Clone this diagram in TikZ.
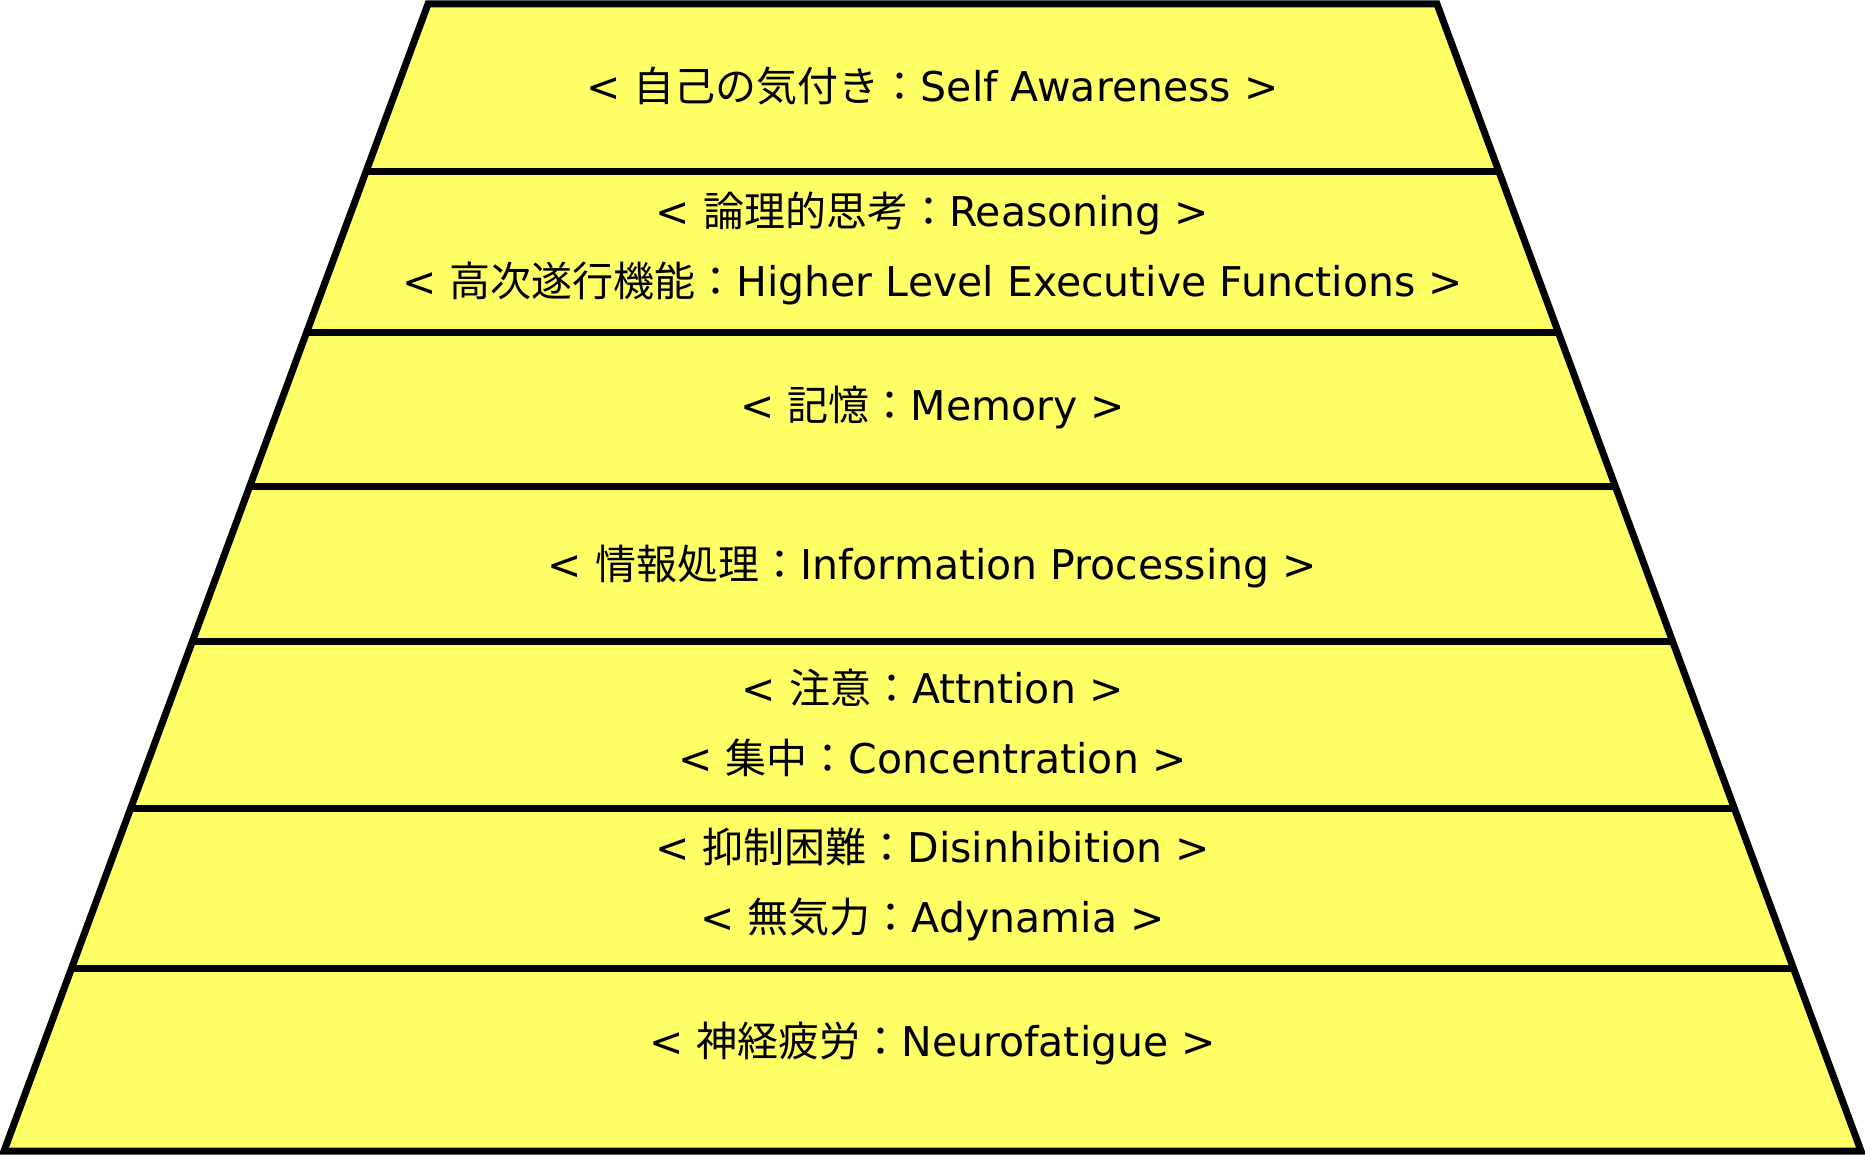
\documentclass[tikz,border=0pt]{standalone}
\usepackage{fontspec}
\setmainfont{DejaVu Sans}
\newfontfamily\jpfont{Noto Sans CJK JP}
\newcommand{\J}[1]{{\jpfont #1}}
\usetikzlibrary{calc}
\definecolor{layerfill}{HTML}{FFFF66}
\tikzset{
  lbl/.style={anchor=base, inner sep=0pt, font=\fontsize{41}{48}\selectfont, text=black},
  edge/.style={draw=black, line width=7pt},
}
\begin{document}
\begin{tikzpicture}[x=1pt,y=-1pt]
\useasboundingbox (0,0) rectangle (1865,1156);
\coordinate (TL) at (428,4);
\coordinate (TR) at (1437,4);
\coordinate (BL) at (4,1151);
\coordinate (BR) at (1861,1151);
\fill[layerfill] (TL) -- (TR) -- (BR) -- (BL) -- cycle;
% dividers
\foreach \t [count=\i] in {0.1456,0.2868,0.4207,0.5562,0.7018,0.8405}{
  \coordinate (L\i) at ($(TL)!\t!(BL)$);
  \coordinate (R\i) at ($(TR)!\t!(BR)$);
  \draw[edge] (L\i) -- (R\i);
}
\draw[edge, line join=miter] (TL) -- (TR) -- (BR) -- (BL) -- cycle;
% labels
\node[lbl] (t1) at (932.5,101) {< \J{自己の気付き：}Self Awareness >};
\node[lbl] (t2) at (932.5,226) {< \J{論理的思考：}Reasoning >};
\node[lbl] (t3) at (932.5,296) {< \J{高次遂行機能：}Higher Level Executive Functions >};
\node[lbl] (t4) at (932.5,420) {< \J{記憶：}Memory >};
\node[lbl] (t5) at (932.5,579) {< \J{情報処理：}Information Processing >};
\node[lbl] (t6) at (932.5,703) {< \J{注意：}Attntion >};
\node[lbl] (t7) at (932.5,773) {< \J{集中：}Concentration >};
\node[lbl] (t8) at (932.5,862) {< \J{抑制困難：}Disinhibition >};
\node[lbl] (t9) at (932.5,932) {< \J{無気力：}Adynamia >};
\node[lbl] (t10) at (932.5,1056) {< \J{神経疲労：}Neurofatigue >};
\end{tikzpicture}
\end{document}
